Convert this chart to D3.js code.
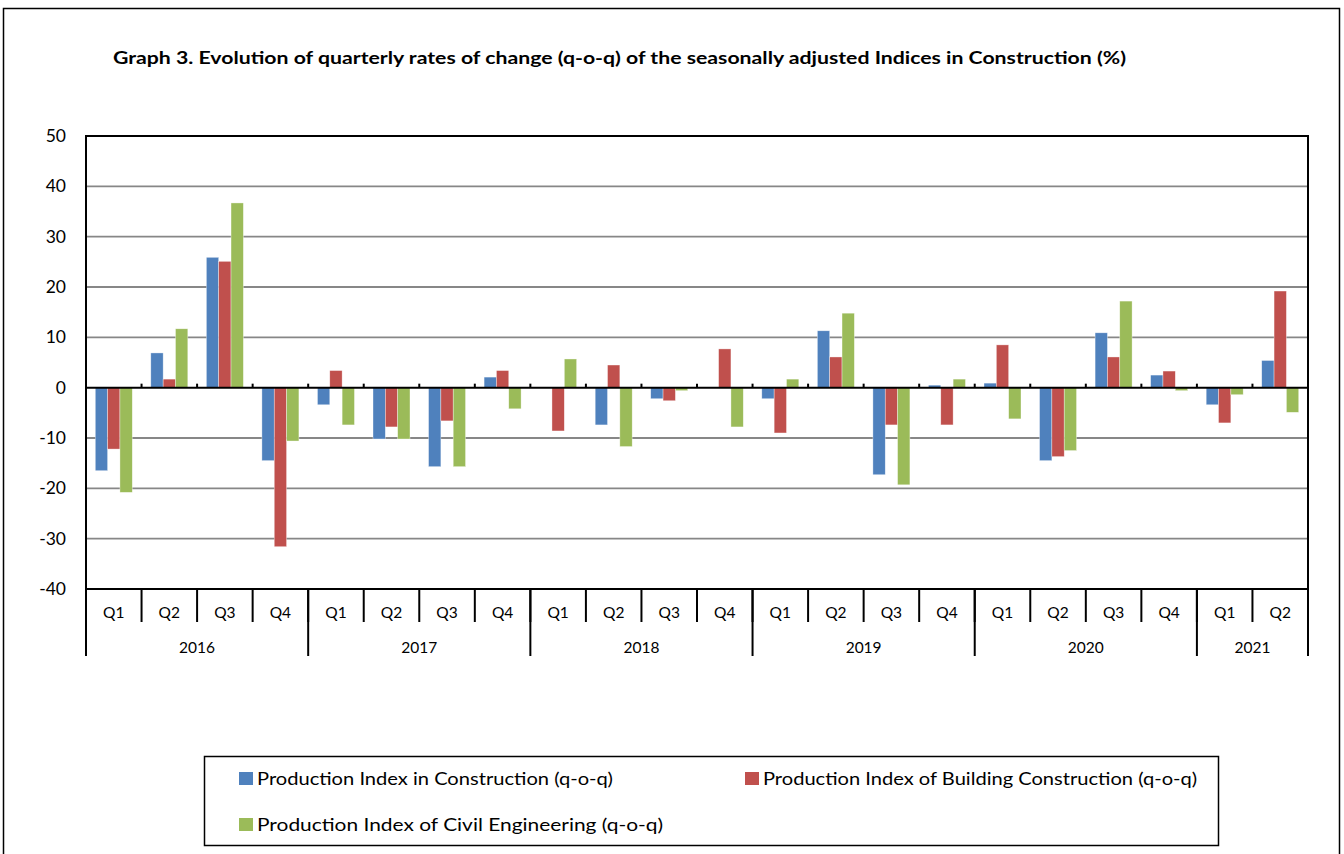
<!DOCTYPE html>
<html>
<head>
<meta charset="utf-8">
<script src="https://cdn.jsdelivr.net/npm/d3@7"></script>
<style>
  body { margin: 0; background: #fff; }
  text { font-family: Lato, "Open Sans", sans-serif; fill: #000; }
</style>
</head>
<body>
<svg id="chart" width="1344" height="854"></svg>
<script>
'use strict';

// quarters and years on the category axis
const years = ['2016', '2017', '2018', '2019', '2020', '2021'];
const quartersPerYear = [4, 4, 4, 4, 4, 2];
const yTicks = [50, 40, 30, 20, 10, 0, -10, -20, -30, -40];

// q-o-q rates (%)
const construction = [-16.5, 6.9, 25.9, -14.5, -3.4, -10.2, -15.7, 2.1, 0.1, -7.4, -2.2, 0.1,
  -2.2, 11.3, -17.3, 0.5, 0.9, -14.5, 10.9, 2.5, -3.4, 5.4];
const building = [-12.2, 1.7, 25.1, -31.6, 3.4, -7.8, -6.6, 3.4, -8.6, 4.5, -2.6, 7.7,
  -9.0, 6.1, -7.4, -7.4, 8.5, -13.7, 6.1, 3.3, -7.0, 19.2];
const civil = [-20.8, 11.7, 36.7, -10.6, -7.4, -10.2, -15.7, -4.2, 5.7, -11.7, -0.6, -7.8,
  1.7, 14.8, -19.3, 1.7, -6.2, -12.5, 17.2, -0.6, -1.4, -4.9];

const seriesNames = [
  'Production Index in Construction (q-o-q)',
  'Production Index of Building Construction (q-o-q)',
  'Production Index of Civil Engineering (q-o-q)'
];
const colors = ['#4F81BD', '#C0504D', '#9BBB59'];

// build quarter list
const quarters = [];
years.forEach(function(y, i) {
  for (let q = 1; q <= quartersPerYear[i]; q++) {
    quarters.push({ key: y + '-Q' + q, q: 'Q' + q, year: y });
  }
});
const series = [construction, building, civil];

const svg = d3.select('#chart');
const plot = { left: 86, right: 1308, top: 136, bottom: 589 };

// outer frame
svg.append('rect')
  .attr('x', 3.5).attr('y', 8.5)
  .attr('width', 1336).attr('height', 860)
  .attr('fill', 'none').attr('stroke', '#000').attr('stroke-width', 1.5);

// title
svg.append('text')
  .attr('x', 113).attr('y', 64)
  .attr('font-size', 16.5).attr('font-weight', 'bold')
  .attr('textLength', 1013).attr('lengthAdjust', 'spacingAndGlyphs')
  .text('Graph 3. Evolution of quarterly rates of change (q-o-q)  of the seasonally adjusted  Indices in Construction (%)');

const y = d3.scaleLinear().domain([-40, 50]).range([plot.bottom, plot.top]);
const x0 = d3.scaleBand()
  .domain(quarters.map(d => d.key))
  .range([plot.left, plot.right])
  .padding(0);
const bw = x0.bandwidth();
const groupW = 37;
const x1 = d3.scaleBand()
  .domain([0, 1, 2])
  .range([(bw - groupW) / 2, (bw + groupW) / 2])
  .padding(0);

// gridlines
svg.append('g')
  .selectAll('line')
  .data(yTicks.filter(d => d !== 0 && d !== 50 && d !== -40))
  .enter()
  .append('line')
  .attr('x1', plot.left).attr('x2', plot.right)
  .attr('y1', d => y(d)).attr('y2', d => y(d))
  .attr('stroke', '#878787').attr('stroke-width', 1.8);

// y tick labels
svg.append('g')
  .selectAll('text')
  .data(yTicks)
  .enter()
  .append('text')
  .attr('x', 66)
  .attr('y', d => y(d))
  .attr('dy', '0.35em')
  .attr('text-anchor', 'end')
  .attr('font-size', 17.5)
  .text(d => d);

// bars
const groups = svg.append('g')
  .selectAll('g')
  .data(quarters)
  .enter()
  .append('g')
  .attr('transform', d => 'translate(' + x0(d.key) + ',0)');

groups.selectAll('rect')
  .data((d, i) => series.map((s, k) => ({ k: k, v: s[i] })))
  .enter()
  .append('rect')
  .attr('x', d => x1(d.k))
  .attr('width', x1.bandwidth())
  .attr('y', d => y(Math.max(0, d.v)))
  .attr('height', d => Math.abs(y(d.v) - y(0)))
  .attr('fill', d => colors[d.k])
  .attr('stroke', '#fff')
  .attr('stroke-opacity', 0.6)
  .attr('stroke-width', 0.6);

// plot border and zero line
svg.append('rect')
  .attr('x', plot.left).attr('y', plot.top)
  .attr('width', plot.right - plot.left).attr('height', plot.bottom - plot.top)
  .attr('fill', 'none').attr('stroke', '#000').attr('stroke-width', 2);

svg.append('line')
  .attr('x1', plot.left).attr('x2', plot.right)
  .attr('y1', y(0)).attr('y2', y(0))
  .attr('stroke', '#000').attr('stroke-width', 2);

// small tick marks on zero line
svg.append('g')
  .selectAll('line')
  .data(quarters.slice(1))
  .enter()
  .append('line')
  .attr('x1', d => x0(d.key)).attr('x2', d => x0(d.key))
  .attr('y1', y(0) - 4).attr('y2', y(0))
  .attr('stroke', '#000').attr('stroke-width', 2);

// category axis: quarter separators and labels
const axis = svg.append('g');
axis.selectAll('.qsep')
  .data(quarters.slice(1))
  .enter()
  .append('line')
  .attr('class', 'qsep')
  .attr('x1', d => x0(d.key)).attr('x2', d => x0(d.key))
  .attr('y1', plot.bottom).attr('y2', 622)
  .attr('stroke', '#000').attr('stroke-width', 2);

axis.selectAll('.qlab')
  .data(quarters)
  .enter()
  .append('text')
  .attr('class', 'qlab')
  .attr('x', d => x0(d.key) + bw / 2)
  .attr('y', 613)
  .attr('dy', '0.35em')
  .attr('text-anchor', 'middle')
  .attr('font-size', 15.5)
  .text(d => d.q);

// year separators and labels
const yearStarts = [];
let idx = 0;
years.forEach(function(yr, i) {
  yearStarts.push({ year: yr, start: idx, end: idx + quartersPerYear[i] });
  idx += quartersPerYear[i];
});
const edgeX = i => plot.left + i * bw;

axis.selectAll('.ysep')
  .data(yearStarts.map(d => d.start).concat([quarters.length]))
  .enter()
  .append('line')
  .attr('class', 'ysep')
  .attr('x1', d => edgeX(d)).attr('x2', d => edgeX(d))
  .attr('y1', plot.bottom).attr('y2', 656)
  .attr('stroke', '#000').attr('stroke-width', 2);

axis.selectAll('.ylab')
  .data(yearStarts)
  .enter()
  .append('text')
  .attr('class', 'ylab')
  .attr('x', d => (edgeX(d.start) + edgeX(d.end)) / 2)
  .attr('y', 648)
  .attr('dy', '0.35em')
  .attr('text-anchor', 'middle')
  .attr('font-size', 15.5)
  .text(d => d.year);

// legend
const legend = svg.append('g');
legend.append('rect')
  .attr('x', 204.5).attr('y', 756.5)
  .attr('width', 1014).attr('height', 89)
  .attr('fill', '#fff').attr('stroke', '#000').attr('stroke-width', 1.5);

const legendPos = [
  { x: 239, y: 772, w: 356 },
  { x: 745, y: 772, w: 434 },
  { x: 239, y: 818, w: 406 }
];
seriesNames.forEach(function(name, i) {
  const p = legendPos[i];
  legend.append('rect')
    .attr('x', p.x).attr('y', p.y)
    .attr('width', 14).attr('height', 13)
    .attr('fill', colors[i]);
  legend.append('text')
    .attr('x', p.x + 18).attr('y', p.y + 7)
    .attr('dy', '0.35em')
    .attr('font-size', 17)
    .attr('textLength', p.w).attr('lengthAdjust', 'spacingAndGlyphs')
    .text(name);
});
</script>
</body>
</html>
